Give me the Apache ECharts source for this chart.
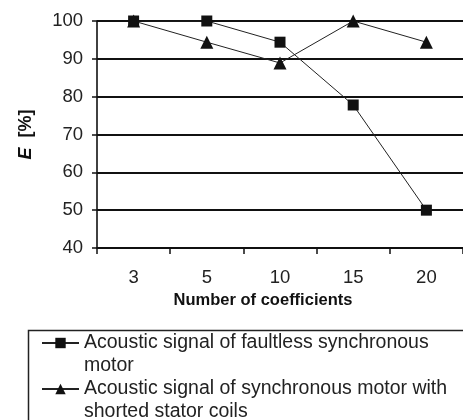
<!DOCTYPE html>
<html><head><meta charset="utf-8">
<script src="https://cdn.jsdelivr.net/npm/echarts@6/dist/echarts.min.js"></script>
<style>html,body{margin:0;padding:0;background:#fff;}#c{width:463px;height:420px;}</style>
</head><body><div id="c"></div>
<script>
const categories = ['3', '5', '10', '15', '20'];
const faultless = [100, 100, 94.4, 77.8, 50];
const shorted = [100, 94.4, 88.9, 100, 94.4];
const yTicks = [40, 50, 60, 70, 80, 90, 100];
const seriesNames = [
  'Acoustic signal of faultless synchronous\nmotor',
  'Acoustic signal of synchronous motor with\nshorted stator coils'
];
const FONT = 'Liberation Sans, Arial, sans-serif';
const chart = echarts.init(document.getElementById('c'), null, {renderer: 'canvas'});
chart.setOption({
  animation: false,
  backgroundColor: '#fff',
  grid: {left: 97, top: 21, bottom: 172, right: -6, containLabel: false},
  xAxis: {
    type: 'category', data: categories, boundaryGap: true,
    axisLine: {lineStyle: {color: '#111', width: 1.6}},
    axisTick: {show: true, length: 6, inside: false, lineStyle: {color: '#111', width: 1.5}},
    axisLabel: {margin: 20, color: '#222', fontFamily: FONT, fontSize: 18.5},
    name: 'Number of coefficients', nameLocation: 'middle', nameGap: 38.5,
    nameTextStyle: {fontFamily: FONT, fontSize: 16.5, fontWeight: 'bold', color: '#111', padding: [0, 34, 0, 0]}
  },
  yAxis: {
    type: 'value', min: yTicks[0], max: yTicks[yTicks.length - 1], interval: 10,
    axisLine: {show: true, lineStyle: {color: '#111', width: 1.6}},
    axisTick: {show: true, length: 5, lineStyle: {color: '#111', width: 1.5}},
    axisLabel: {margin: 14, color: '#222', fontFamily: FONT, fontSize: 18.5},
    splitLine: {show: true, lineStyle: {color: '#111', width: 1.8}},
    name: '{i|E} [%]', nameLocation: 'middle', nameGap: 62, nameRotate: 90,
    nameTextStyle: {fontFamily: FONT, fontSize: 18, fontWeight: 'bold', color: '#111',
      rich: {i: {fontFamily: FONT, fontSize: 18, fontWeight: 'bold', fontStyle: 'italic', color: '#111', padding: [0, 5, 0, 0]}}}
  },
  legend: {
    orient: 'vertical', left: 41, top: 308.5, height: 300, width: 500, padding: 0, itemGap: -23,
    itemWidth: 37, itemHeight: 13,
    data: seriesNames,
    formatter: function (n) { return '\n' + n; },
    lineStyle: {width: 2},
    textStyle: {fontFamily: FONT, fontSize: 19.5, color: '#222', lineHeight: 23}
  },
  graphic: [{type: 'rect', left: 26, top: 328, shape: {width: 500, height: 200},
    style: {fill: 'none', stroke: '#222', lineWidth: 1.5}, silent: true}],
  series: [
    {name: seriesNames[0], type: 'line', data: faultless, symbol: 'rect', symbolSize: 11,
      lineStyle: {color: '#222', width: 1}, itemStyle: {color: '#111'}},
    {name: seriesNames[1], type: 'line', data: shorted, symbol: 'triangle', symbolSize: 13,
      lineStyle: {color: '#222', width: 1}, itemStyle: {color: '#111'}}
  ]
});
</script></body></html>
